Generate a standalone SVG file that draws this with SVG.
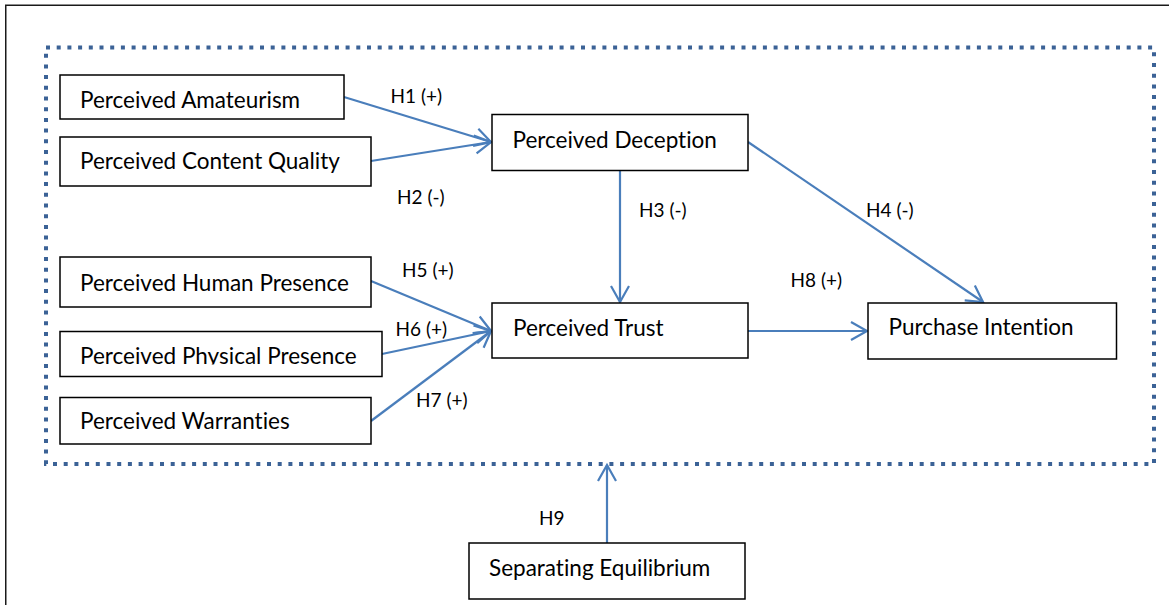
<svg xmlns="http://www.w3.org/2000/svg" width="1169" height="605" viewBox="0 0 1169 605">
  <style>
    .box { fill: #ffffff; stroke: #000000; stroke-width: 1.5; }
    .node-text { font-family: Lato, "Open Sans", sans-serif; font-size: 22.5px; fill: #000000; font-variant-ligatures: none; }
    .label { font-family: Lato, "Open Sans", sans-serif; font-size: 19px; fill: #000000; }
    .link { fill: none; stroke: #4a7ebb; stroke-width: 2.2; marker-end: url(#chevron); }
  </style>
  <defs>
    <marker id="chevron" markerUnits="userSpaceOnUse" markerWidth="24" markerHeight="24" viewBox="-20 -12 24 24" refX="0" refY="0" orient="auto">
      <path d="M-16,-9 L0,0 L-16,9" fill="none" stroke="#4a7ebb" stroke-width="2.2" stroke-linejoin="miter"/>
    </marker>
    <clipPath id="clip-physical">
      <rect x="60" y="331" width="322" height="33.5"/>
    </clipPath>
  </defs>

  <rect width="1169" height="605" fill="#ffffff"/>

  <!-- page frame -->
  <rect x="5.75" y="5.25" width="1200" height="700" fill="none" stroke="#1a1a1a" stroke-width="1.5"/>

  <!-- dotted boundary around the model -->
  <rect id="model-boundary" x="46" y="47.5" width="1108" height="416.5" fill="none" stroke="#3b6296" stroke-width="4" stroke-dasharray="4 6.7"/>

  <!-- connectors -->
  <g id="connectors">
    <line class="link" x1="344" y1="97" x2="491" y2="142"/>
    <line class="link" x1="371" y1="161" x2="491" y2="142"/>
    <line class="link" x1="620" y1="170" x2="620" y2="302"/>
    <line class="link" x1="748" y1="142" x2="983" y2="302"/>
    <line class="link" x1="371" y1="281" x2="491" y2="331"/>
    <line class="link" x1="382" y1="354" x2="491" y2="331"/>
    <line class="link" x1="371" y1="421" x2="491" y2="331"/>
    <line class="link" x1="748" y1="331" x2="867" y2="331"/>
    <line class="link" x1="607" y1="543" x2="607" y2="465"/>
  </g>

  <!-- hypothesis labels -->
  <g id="labels">
    <text class="label" x="390.5" y="103">H1 (+)</text>
    <text class="label" x="397" y="204">H2 (-)</text>
    <text class="label" x="639" y="217">H3 (-)</text>
    <text class="label" x="866" y="217">H4 (-)</text>
    <text class="label" x="402" y="277">H5 (+)</text>
    <text class="label" x="395.5" y="336">H6 (+)</text>
    <text class="label" x="416" y="407">H7 (+)</text>
    <text class="label" x="790.5" y="287">H8 (+)</text>
    <text class="label" x="539" y="525">H9</text>
  </g>

  <!-- nodes -->
  <g id="perceived-amateurism">
    <rect class="box" x="60" y="75" width="284" height="44"/>
    <text class="node-text" x="80" y="108">Perceived Amateurism</text>
  </g>
  <g id="perceived-content-quality">
    <rect class="box" x="60" y="137" width="311" height="49"/>
    <text class="node-text" x="80" y="169">Perceived Content Quality</text>
  </g>
  <g id="perceived-deception">
    <rect class="box" x="492" y="114.5" width="256" height="56"/>
    <text class="node-text" x="512.5" y="147.5">Perceived Deception</text>
  </g>
  <g id="perceived-human-presence">
    <rect class="box" x="60" y="257" width="311" height="50"/>
    <text class="node-text" x="80" y="290.5">Perceived Human Presence</text>
  </g>
  <g id="perceived-physical-presence">
    <rect class="box" x="60" y="331.5" width="322" height="45"/>
    <text class="node-text" x="80" y="364" clip-path="url(#clip-physical)">Perceived Physical Presence</text>
  </g>
  <g id="perceived-warranties">
    <rect class="box" x="60" y="397.5" width="311" height="46.5"/>
    <text class="node-text" x="80" y="429">Perceived Warranties</text>
  </g>
  <g id="perceived-trust">
    <rect class="box" x="492" y="303" width="256" height="55"/>
    <text class="node-text" x="513" y="335.5">Perceived Trust</text>
  </g>
  <g id="purchase-intention">
    <rect class="box" x="868" y="303" width="248.5" height="56"/>
    <text class="node-text" x="888.5" y="335">Purchase Intention</text>
  </g>
  <g id="separating-equilibrium">
    <rect class="box" x="469" y="543" width="276" height="56"/>
    <text class="node-text" x="489" y="576">Separating Equilibrium</text>
  </g>
</svg>
